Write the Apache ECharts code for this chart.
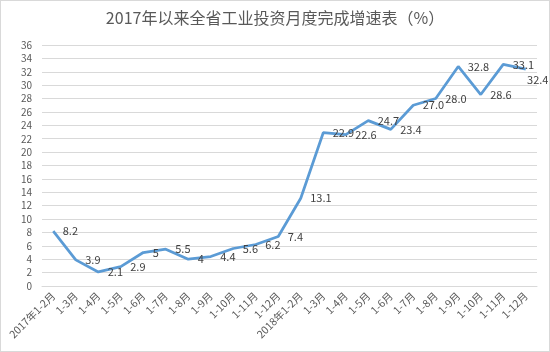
<!DOCTYPE html>
<html>
<head>
<meta charset="utf-8">
<script src="https://cdn.jsdelivr.net/npm/echarts@6/dist/echarts.min.js"></script>
<style>
    html, body { margin: 0; padding: 0; background: #fff; }
    #main { width: 550px; height: 352px; box-sizing: border-box; border: 1px solid #d9d9d9; }
</style>
</head>
<body>
<div id="main"></div>
<script>
// 月份（累计）
var months = ['2017年1-2月', '1-3月', '1-4月', '1-5月', '1-6月', '1-7月', '1-8月', '1-9月', '1-10月', '1-11月', '1-12月',
    '2018年1-2月', '1-3月', '1-4月', '1-5月', '1-6月', '1-7月', '1-8月', '1-9月', '1-10月', '1-11月', '1-12月'];
// 增速（%）
var growth = [8.2, 3.9, 2.1, 2.9, 5, 5.5, 4, 4.4, 5.6, 6.2, 7.4,
    13.1, 22.9, 22.6, 24.7, 23.4, 27.0, 28.0, 32.8, 28.6, 33.1, 32.4];
// 标签文字
var labelText = ['8.2', '3.9', '2.1', '2.9', '5', '5.5', '4', '4.4', '5.6', '6.2', '7.4',
    '13.1', '22.9', '22.6', '24.7', '23.4', '27.0', '28.0', '32.8', '28.6', '33.1', '32.4'];

var font = '"Noto Sans CJK SC", "Noto Sans", sans-serif';
var myChart = echarts.init(document.getElementById('main'));

// 最后一个点的标签放在下方，避免超出图表
var seriesData = growth.map(function (v, i) {
    if (i == growth.length - 1) {
        return { value: v, label: { position: 'bottom', distance: 5, offset: [12, 0] } };
    }
    return v;
});

var option = {
    animation: false,
    title: {
        text: '2017年以来全省工业投资月度完成增速表（%）',
        left: 'center',
        top: 4,
        textStyle: { fontFamily: font, fontSize: 16, fontWeight: 'normal', color: '#595959' }
    },
    grid: { left: 41, right: 12, top: 44, bottom: 65 },
    xAxis: {
        type: 'category',
        data: months,
        axisLine: { lineStyle: { color: '#d9d9d9' } },
        axisTick: { show: false },
        axisLabel: { rotate: 45, interval: 0, fontFamily: font, fontSize: 10.5, color: '#595959', margin: 8 }
    },
    yAxis: {
        type: 'value',
        min: 0,
        max: 36,
        interval: 2,
        axisLine: { show: false },
        axisTick: { show: false },
        splitLine: { lineStyle: { color: '#d9d9d9' } },
        axisLabel: { fontFamily: font, fontSize: 10, color: '#595959', margin: 10 }
    },
    series: [{
        type: 'line',
        data: seriesData,
        symbol: 'circle',
        symbolSize: 1,
        itemStyle: { color: 'rgba(0,0,0,0)' },
        lineStyle: { color: '#5B9BD5', width: 2.75 },
        label: {
            show: true,
            position: 'right',
            distance: 9,
            fontFamily: font,
            fontSize: 11,
            color: '#404040',
            formatter: function (p) { return labelText[p.dataIndex]; }
        }
    }]
};
myChart.setOption(option);
</script>
</body>
</html>
